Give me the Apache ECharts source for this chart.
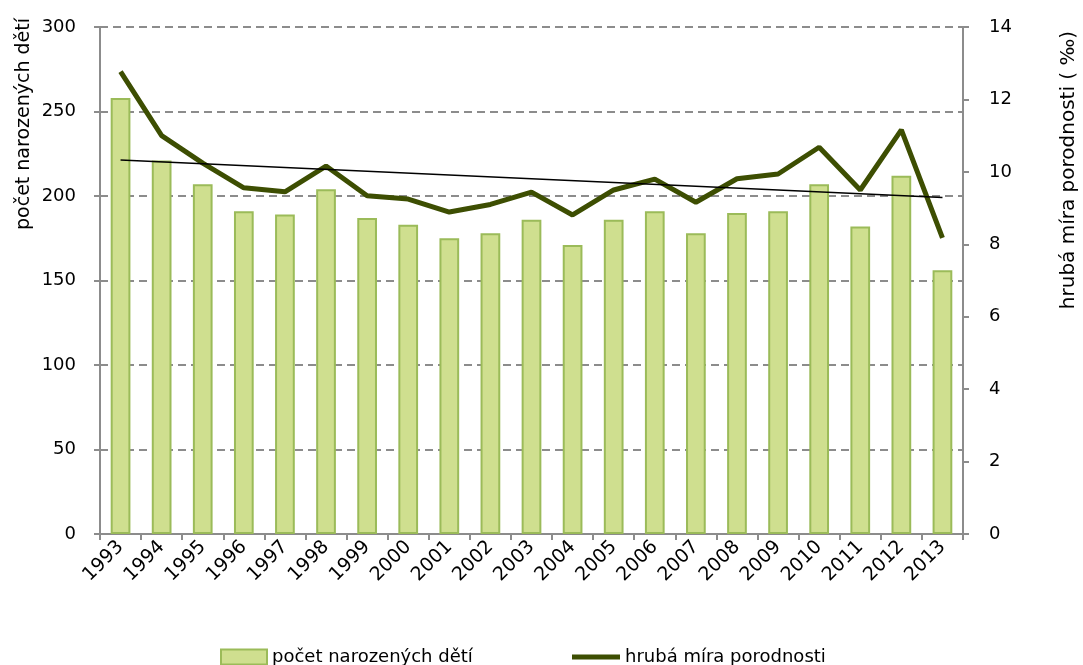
<!DOCTYPE html>
<html>
<head>
<meta charset="utf-8">
<script src="https://cdn.jsdelivr.net/npm/echarts@6/dist/echarts.min.js"></script>
<style>
  html, body { margin: 0; padding: 0; background: #fff; }
  #chart { width: 1083px; height: 665px; }
</style>
</head>
<body>
<div id="chart"></div>
<script>
// data
const years = ['1993', '1994', '1995', '1996', '1997', '1998', '1999', '2000', '2001', '2002', '2003',
  '2004', '2005', '2006', '2007', '2008', '2009', '2010', '2011', '2012', '2013']
const births = [258, 221, 207, 191, 189, 204, 187, 183, 175, 178, 186, 171, 186, 191, 178, 190, 191, 207, 182, 212, 156]
const birthRate = [12.77, 11.0, 10.24, 9.56, 9.45, 10.16, 9.34, 9.25, 8.89, 9.10, 9.44,
  8.81, 9.50, 9.80, 9.16, 9.81, 9.94, 10.68, 9.50, 11.16, 8.18]
// trend line end points (first and last year)
const trendStart = 10.33
const trendEnd = 9.29
const leftTicks = { min: 0, max: 300, interval: 50 }
const rightTicks = { min: 0, max: 14, interval: 2 }

const trend = years.map((y, i) => i === 0 ? trendStart : (i === years.length - 1 ? trendEnd : null))

const font = '"DejaVu Sans", sans-serif'
const axisGray = '#8c8c8c'
const lineColor = '#3d4e02'

let chart = echarts.init(document.getElementById('chart'))

let option = {
  animation: false,
  textStyle: { fontFamily: font },
  grid: { left: 100, right: 120, top: 27, bottom: 131 },
  legend: [
    {
      left: 215,
      top: 643,
      itemWidth: 46,
      itemHeight: 15,
      icon: 'rect',
      textStyle: { fontSize: 18, color: '#000', fontFamily: font },
      data: ['počet narozených dětí']
    },
    {
      left: 567,
      top: 643,
      itemWidth: 48,
      itemHeight: 5,
      icon: 'rect',
      textStyle: { fontSize: 18, color: '#000', fontFamily: font },
      data: ['hrubá míra porodnosti']
    }
  ],
  xAxis: {
    type: 'category',
    data: years,
    axisLine: { lineStyle: { color: axisGray, width: 2 } },
    axisTick: { show: true, length: 6, lineStyle: { color: axisGray, width: 2 } },
    axisLabel: { rotate: 45, fontSize: 19, color: '#000', margin: 10, fontFamily: font }
  },
  yAxis: [
    {
      type: 'value',
      min: leftTicks.min,
      max: leftTicks.max,
      interval: leftTicks.interval,
      axisLine: { show: true, lineStyle: { color: axisGray, width: 2 } },
      axisTick: { show: true, length: 6, lineStyle: { color: axisGray, width: 2 } },
      axisLabel: { fontSize: 18, color: '#000', margin: 24, fontFamily: font },
      splitLine: { show: true, lineStyle: { color: axisGray, width: 2, type: [8, 5] } }
    },
    {
      type: 'value',
      min: rightTicks.min,
      max: rightTicks.max,
      interval: rightTicks.interval,
      position: 'right',
      axisLine: { show: true, lineStyle: { color: axisGray, width: 2 } },
      axisTick: { show: true, length: 6, lineStyle: { color: axisGray, width: 2 } },
      axisLabel: { fontSize: 18, color: '#000', margin: 26, fontFamily: font },
      splitLine: { show: false }
    }
  ],
  graphic: [
    {
      type: 'text',
      x: 24,
      y: 124,
      rotation: Math.PI / 2,
      style: {
        text: 'počet narozených dětí',
        fontSize: 19,
        fontFamily: font,
        fill: '#000',
        align: 'center',
        verticalAlign: 'middle'
      }
    },
    {
      type: 'text',
      x: 1069,
      y: 170,
      rotation: Math.PI / 2,
      style: {
        text: 'hrubá míra porodnosti ( ‰)',
        fontSize: 20,
        fontFamily: font,
        fill: '#000',
        align: 'center',
        verticalAlign: 'middle'
      }
    }
  ],
  series: [
    {
      name: 'počet narozených dětí',
      type: 'bar',
      data: births,
      barWidth: '48%',
      itemStyle: { color: '#cfdf8f', borderColor: '#9bbb59', borderWidth: 2 }
    },
    {
      name: 'hrubá míra porodnosti',
      type: 'line',
      yAxisIndex: 1,
      data: birthRate,
      symbol: 'none',
      lineStyle: { color: lineColor, width: 5 },
      itemStyle: { color: lineColor }
    },
    {
      name: 'trend',
      type: 'line',
      yAxisIndex: 1,
      data: trend,
      connectNulls: true,
      symbol: 'none',
      lineStyle: { color: '#000', width: 1.5 },
      silent: true,
      z: 5
    }
  ]
}

chart.setOption(option)
</script>
</body>
</html>
